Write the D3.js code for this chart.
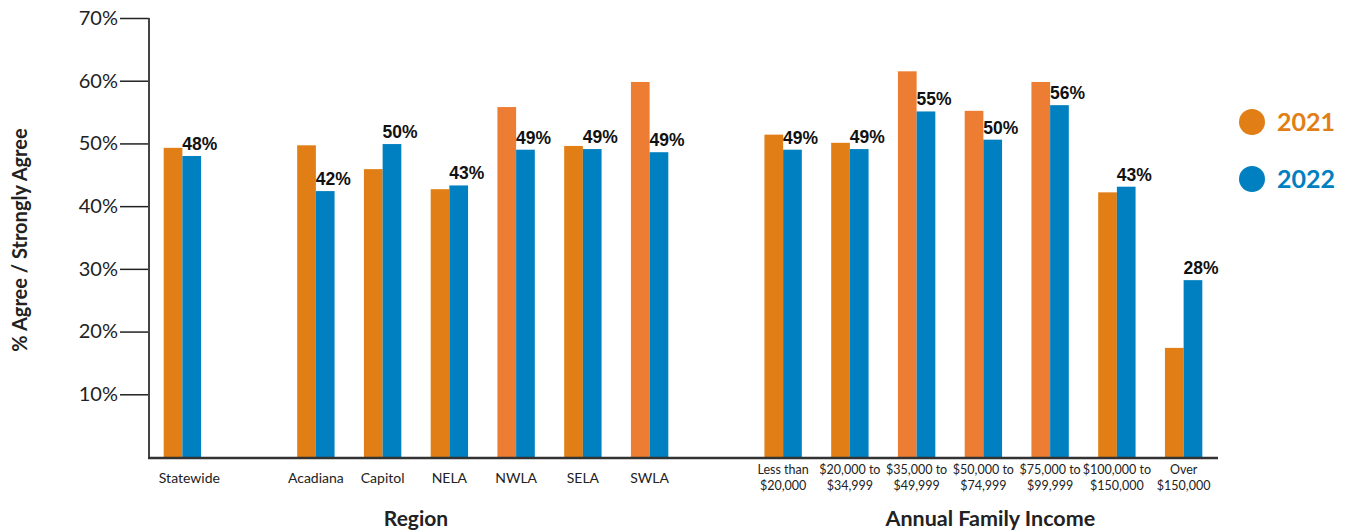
<!DOCTYPE html>
<html>
<head>
<meta charset="utf-8">
<script src="https://cdn.jsdelivr.net/npm/d3@7"></script>
<style>
  body { margin: 0; background: #fff; }
  svg { font-family: Lato, "Open Sans", sans-serif; }
</style>
</head>
<body>
<svg></svg>
<script>
var width = 1352;
var height = 532;

// slots along the x axis; blank keys leave the gaps between groups
var slots = ["Statewide", "gap1", "Acadiana", "Capitol", "NELA", "NWLA", "SELA", "SWLA", "gap2",
             "inc1", "inc2", "inc3", "inc4", "inc5", "inc6", "inc7"];
var categories = ["Statewide", "Acadiana", "Capitol", "NELA", "NWLA", "SELA", "SWLA",
                  "inc1", "inc2", "inc3", "inc4", "inc5", "inc6", "inc7"];
var tickLabels = [["Statewide"], ["Acadiana"], ["Capitol"], ["NELA"], ["NWLA"], ["SELA"], ["SWLA"],
                  ["Less than", "$20,000"], ["$20,000 to", "$34,999"], ["$35,000 to", "$49,999"],
                  ["$50,000 to", "$74,999"], ["$75,000 to", "$99,999"], ["$100,000 to", "$150,000"],
                  ["Over", "$150,000"]];
var values2021 = [49.3, 49.7, 45.9, 42.7, 55.8, 49.6, 59.8, 51.4, 50.1, 61.5, 55.2, 59.8, 42.2, 17.4];
var values2022 = [48.0, 42.4, 49.9, 43.3, 49.0, 49.1, 48.6, 49.0, 49.1, 55.1, 50.6, 56.1, 43.1, 28.2];
var labels2022 = ["48%", "42%", "50%", "43%", "49%", "49%", "49%", "49%", "49%", "55%", "50%", "56%", "43%", "28%"];
var yTicks = [10, 20, 30, 40, 50, 60, 70];
var years = ["2021", "2022"];

var svg = d3.select('svg')
  .attr('width', width)
  .attr('height', height);

var x = d3.scaleBand()
  .domain(slots)
  .range([149, 1217])
  .paddingInner(0.44)
  .paddingOuter(0.22);

var sub = d3.scaleBand()
  .domain(years)
  .range([0, x.bandwidth()]);

var y = d3.scaleLinear()
  .domain([0, 70])
  .range([457, 18]);

var color = d3.scaleOrdinal()
  .domain(years)
  .range(['#e17e15', '#0080c0']);

// bars
var groups = svg.append('g')
  .selectAll('g')
  .data(categories)
  .join('g')
    .attr('transform', d => 'translate(' + x(d) + ',0)');

groups.append('rect')
  .attr('x', sub('2021'))
  .attr('y', (d, i) => y(values2021[i]))
  .attr('width', sub.bandwidth())
  .attr('height', (d, i) => y(0) - y(values2021[i]))
  .attr('fill', (d, i) => values2021[i] > 55 ? '#ec7d33' : color('2021'));

groups.append('rect')
  .attr('x', sub('2022'))
  .attr('y', (d, i) => y(values2022[i]))
  .attr('width', sub.bandwidth())
  .attr('height', (d, i) => y(0) - y(values2022[i]))
  .attr('fill', color('2022'));

groups.append('text')
  .attr('x', sub('2022'))
  .attr('y', (d, i) => y(values2022[i]) - 6)
  .attr('font-family', '"Liberation Sans", Arial, sans-serif')
  .attr('font-weight', 'bold')
  .attr('font-size', 17.5)
  .attr('fill', '#111')
  .text((d, i) => labels2022[i]);

// y axis
var yAxis = svg.append('g')
  .attr('transform', 'translate(149,0)')
  .call(d3.axisLeft(y).tickValues(yTicks).tickSize(29).tickPadding(2).tickFormat(d => d + '%'));
yAxis.select('.domain').remove();
yAxis.selectAll('.tick line').attr('stroke', '#222').attr('stroke-width', 1.5);
yAxis.selectAll('.tick text')
  .attr('font-family', 'Lato, sans-serif')
  .attr('font-size', 20)
  .attr('fill', '#222');

svg.append('line')
  .attr('x1', 149).attr('x2', 149)
  .attr('y1', y(70)).attr('y2', y(0))
  .attr('stroke', '#444').attr('stroke-width', 2);

svg.append('line')
  .attr('x1', 148).attr('x2', 1218)
  .attr('y1', y(0) + 1).attr('y2', y(0) + 1)
  .attr('stroke', '#333').attr('stroke-width', 2.5);

// x labels
var xl = svg.append('g')
  .selectAll('text')
  .data(categories)
  .join('text')
    .attr('text-anchor', 'middle')
    .attr('fill', '#222')
    .attr('font-size', (d, i) => tickLabels[i].length > 1 ? 12.5 : 14)
    .attr('transform', (d, i) => 'translate(' + (x(d) + x.bandwidth() / 2 + (i === 0 ? 7 : 0)) + ',' + (tickLabels[i].length > 1 ? 474 : 483) + ')');

xl.selectAll('tspan')
  .data((d, i) => tickLabels[i])
  .join('tspan')
    .attr('x', 0)
    .attr('dy', (d, j) => j === 0 ? 0 : 15.5)
    .text(d => d);

svg.append('text')
  .attr('x', (x('Statewide') + x('SWLA') + x.bandwidth()) / 2)
  .attr('y', 526)
  .attr('text-anchor', 'middle')
  .attr('font-weight', 'bold')
  .attr('font-size', 21)
  .attr('fill', '#222')
  .text('Region');

svg.append('text')
  .attr('x', (x('inc1') + x('inc7') + x.bandwidth()) / 2 + 7)
  .attr('y', 526)
  .attr('text-anchor', 'middle')
  .attr('font-weight', 'bold')
  .attr('font-size', 21.5)
  .attr('fill', '#222')
  .text('Annual Family Income');

svg.append('text')
  .attr('transform', 'translate(27,240) rotate(-90)')
  .attr('text-anchor', 'middle')
  .attr('font-weight', 'bold')
  .attr('font-size', 20)
  .attr('fill', '#222')
  .text('% Agree / Strongly Agree');

// legend
var legend = svg.append('g')
  .selectAll('g')
  .data(years)
  .join('g')
    .attr('transform', (d, i) => 'translate(1252,' + (122 + i * 57) + ')');

legend.append('circle')
  .attr('r', 13)
  .attr('fill', d => color(d));

legend.append('text')
  .attr('x', 25)
  .attr('y', 9)
  .attr('font-weight', 'bold')
  .attr('font-size', 25)
  .attr('fill', d => color(d))
  .text(d => d);
</script>
</body>
</html>
